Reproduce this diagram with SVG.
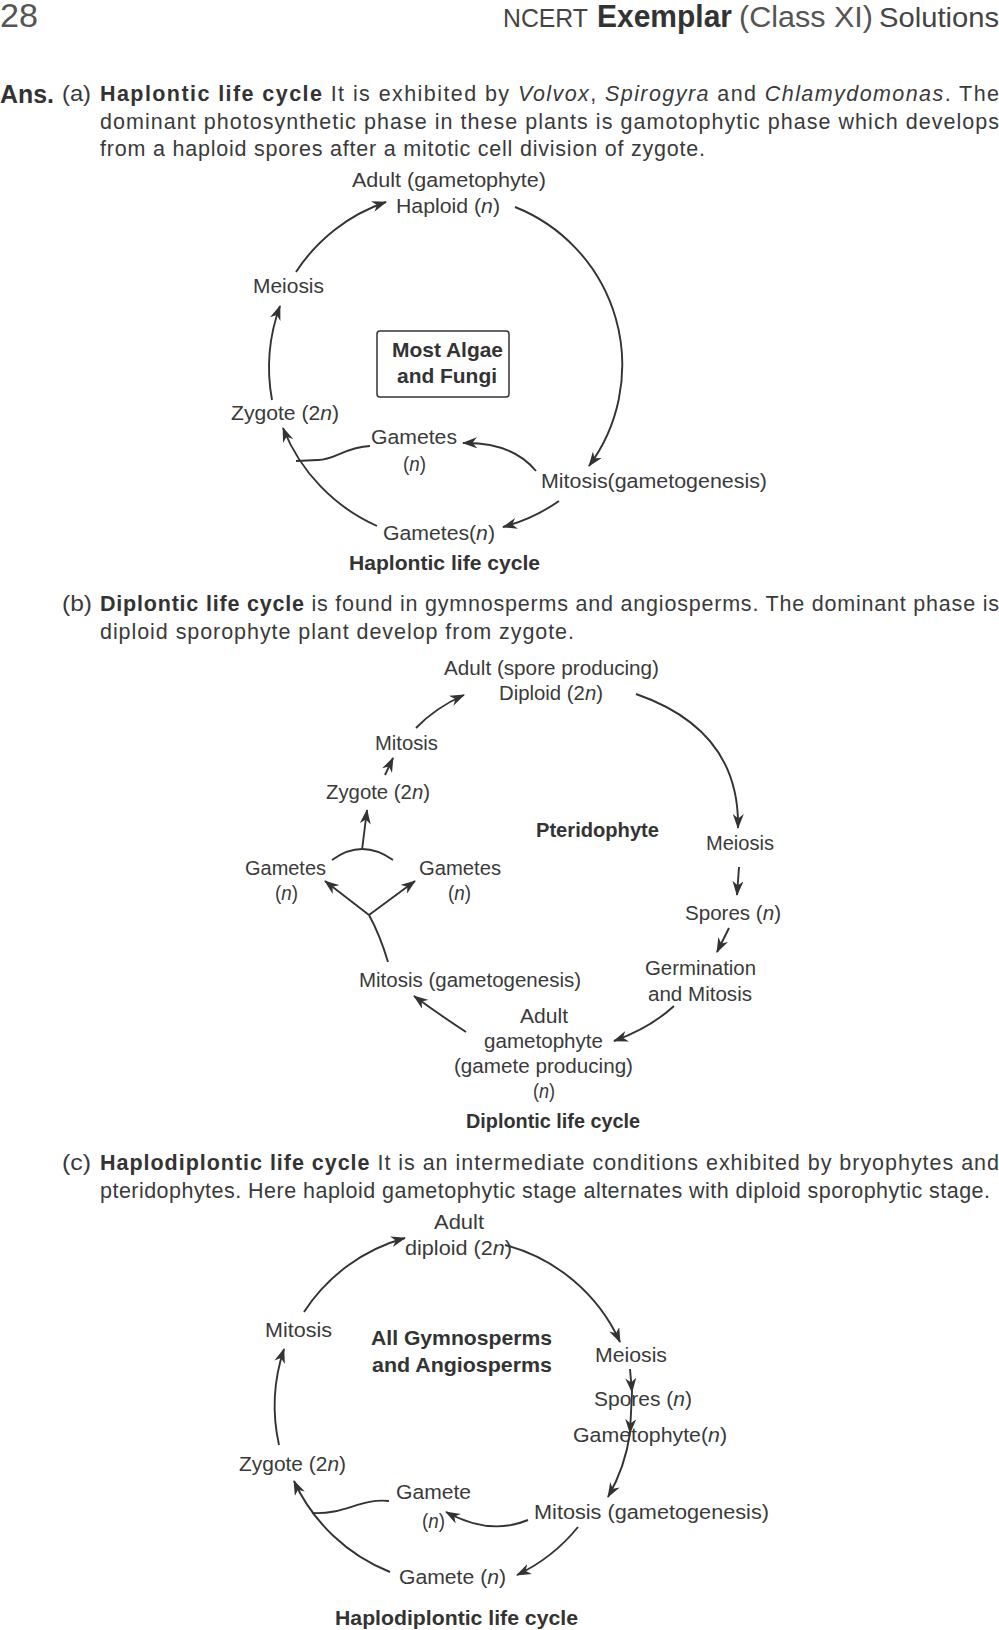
<svg xmlns="http://www.w3.org/2000/svg" width="999" height="1630" viewBox="0 0 999 1630">
<style>
.t{font-family:"Liberation Sans",Arial,sans-serif;font-size:20.5px;fill:#3a3a3a;}
.b{font-family:"Liberation Sans",Arial,sans-serif;font-size:20.5px;font-weight:bold;fill:#333;}
.p{font-family:"Liberation Sans",Arial,sans-serif;font-size:21.5px;fill:#3a3a3a;}
.i{font-style:italic;}
.bb{font-weight:bold;fill:#333;}
.c{stroke:#333;stroke-width:1.9;fill:none;}
.a{marker-end:url(#ah);}
</style>
<defs>
<marker id="ah" viewBox="0 0 15 11" refX="14" refY="5.5" markerWidth="15" markerHeight="11" markerUnits="userSpaceOnUse" orient="auto"><path d="M0,0 L15,5.5 L0,11 L4.5,5.5 z" fill="#333"/></marker>
</defs>
<rect width="999" height="1630" fill="#fff"/>

<g id="header">
<text x="0" y="27" font-family="Liberation Sans,Arial,sans-serif" font-size="33" fill="#555" textLength="38" lengthAdjust="spacingAndGlyphs">28</text>
<text x="503" y="27" font-family="Liberation Sans,Arial,sans-serif" font-size="26" fill="#444" textLength="85" lengthAdjust="spacingAndGlyphs">NCERT</text>
<text x="597" y="27" font-family="Liberation Sans,Arial,sans-serif" font-size="31" font-weight="bold" fill="#333" textLength="135" lengthAdjust="spacingAndGlyphs">Exemplar</text>
<text x="739" y="27" font-family="Liberation Sans,Arial,sans-serif" font-size="29" fill="#555" textLength="134" lengthAdjust="spacingAndGlyphs">(Class XI)</text>
<text x="879" y="27" font-family="Liberation Sans,Arial,sans-serif" font-size="28" fill="#444" textLength="120" lengthAdjust="spacingAndGlyphs">Solutions</text>
</g>

<g id="para-a">
<text x="0" y="103" font-family="Liberation Sans,Arial,sans-serif" font-size="25" font-weight="bold" fill="#333" textLength="54" lengthAdjust="spacingAndGlyphs">Ans.</text>
<text class="p" x="62" y="101" textLength="29" lengthAdjust="spacingAndGlyphs">(a)</text>
<text class="p" x="100" y="101" textLength="899" lengthAdjust="spacing"><tspan class="bb">Haplontic life cycle</tspan> It is exhibited by <tspan class="i">Volvox</tspan>, <tspan class="i">Spirogyra</tspan> and <tspan class="i">Chlamydomonas</tspan>. The</text>
<text class="p" x="100" y="129" textLength="899" lengthAdjust="spacing">dominant photosynthetic phase in these plants is gamotophytic phase which develops</text>
<text class="p" x="100" y="156" textLength="605" lengthAdjust="spacing">from a haploid spores after a mitotic cell division of zygote.</text>
</g>

<g id="diagram-a">
<g id="a-adult"><text class="t" x="352" y="187" textLength="194" lengthAdjust="spacingAndGlyphs">Adult (gametophyte)</text>
<text class="t" x="396" y="213" textLength="104" lengthAdjust="spacingAndGlyphs">Haploid (<tspan class="i">n</tspan>)</text></g>
<g id="a-meiosis"><text class="t" x="253" y="293" textLength="71" lengthAdjust="spacingAndGlyphs">Meiosis</text></g>
<g id="a-box"><rect x="377" y="331" width="132" height="66" rx="3" fill="none" stroke="#333" stroke-width="1.5"/>
<text class="b" x="392" y="357" font-size="21" textLength="111" lengthAdjust="spacingAndGlyphs">Most Algae</text>
<text class="b" x="397" y="383" font-size="21" textLength="100" lengthAdjust="spacingAndGlyphs">and Fungi</text></g>
<g id="a-zygote"><text class="t" x="231" y="420" textLength="108" lengthAdjust="spacingAndGlyphs">Zygote (2<tspan class="i">n</tspan>)</text></g>
<g id="a-gametes1"><text class="t" x="371" y="444" textLength="86" lengthAdjust="spacingAndGlyphs">Gametes</text>
<text class="t" x="403" y="471" textLength="23" lengthAdjust="spacingAndGlyphs">(<tspan class="i">n</tspan>)</text></g>
<g id="a-mitosis"><text class="t" x="541" y="488" textLength="226" lengthAdjust="spacingAndGlyphs">Mitosis(gametogenesis)</text></g>
<g id="a-gametes2"><text class="t" x="383" y="540" textLength="112" lengthAdjust="spacingAndGlyphs">Gametes(<tspan class="i">n</tspan>)</text></g>
<g id="a-caption"><text class="b" x="349" y="570" font-size="21" textLength="191" lengthAdjust="spacingAndGlyphs">Haplontic life cycle</text></g>
</g>

<g id="connectors-a">
<path class="c a" d="M272,400 A180,180 0 0 1 280,306"/>
<path class="c a" d="M296,272 A175,175 0 0 1 386,202"/>
<path class="c a" d="M515,207 A170,170 0 0 1 589,466"/>
<path class="c a" d="M559,501 A178,178 0 0 1 503,527"/>
<path class="c a" d="M377,526 A180,180 0 0 1 283,428"/>
<path class="c a" d="M536,471 Q512,442 463,443"/>
<path class="c" d="M370,446 C345,447 335,460 318,460 L296,461"/>
</g>

<g id="para-b">
<text class="p" x="62" y="611" textLength="30" lengthAdjust="spacingAndGlyphs">(b)</text>
<text class="p" x="100" y="611" textLength="899" lengthAdjust="spacing"><tspan class="bb">Diplontic life cycle</tspan> is found in gymnosperms and angiosperms. The dominant phase is</text>
<text class="p" x="100" y="639" textLength="474" lengthAdjust="spacing">diploid sporophyte plant develop from zygote.</text>
</g>

<g id="diagram-b">
<g id="b-adult"><text class="t" x="444" y="675" textLength="215" lengthAdjust="spacingAndGlyphs">Adult (spore producing)</text>
<text class="t" x="499" y="700" textLength="104" lengthAdjust="spacingAndGlyphs">Diploid (2<tspan class="i">n</tspan>)</text></g>
<g id="b-mitosis"><text class="t" x="375" y="750" textLength="63" lengthAdjust="spacingAndGlyphs">Mitosis</text></g>
<g id="b-zygote"><text class="t" x="326" y="799" textLength="104" lengthAdjust="spacingAndGlyphs">Zygote (2<tspan class="i">n</tspan>)</text></g>
<g id="b-gametes-l"><text class="t" x="245" y="875" textLength="81" lengthAdjust="spacingAndGlyphs">Gametes</text>
<text class="t" x="275" y="900" textLength="23" lengthAdjust="spacingAndGlyphs">(<tspan class="i">n</tspan>)</text></g>
<g id="b-gametes-r"><text class="t" x="419" y="875" textLength="82" lengthAdjust="spacingAndGlyphs">Gametes</text>
<text class="t" x="448" y="900" textLength="23" lengthAdjust="spacingAndGlyphs">(<tspan class="i">n</tspan>)</text></g>
<g id="b-pterido"><text class="b" x="536" y="837" textLength="123" lengthAdjust="spacingAndGlyphs">Pteridophyte</text></g>
<g id="b-meiosis"><text class="t" x="706" y="850" textLength="68" lengthAdjust="spacingAndGlyphs">Meiosis</text></g>
<g id="b-spores"><text class="t" x="685" y="920" textLength="96" lengthAdjust="spacingAndGlyphs">Spores (<tspan class="i">n</tspan>)</text></g>
<g id="b-germ"><text class="t" x="645" y="975" textLength="111" lengthAdjust="spacingAndGlyphs">Germination</text>
<text class="t" x="648" y="1001" textLength="104" lengthAdjust="spacingAndGlyphs">and Mitosis</text></g>
<g id="b-adult-g"><text class="t" x="520" y="1023" textLength="48" lengthAdjust="spacingAndGlyphs">Adult</text>
<text class="t" x="484" y="1048" textLength="119" lengthAdjust="spacingAndGlyphs">gametophyte</text>
<text class="t" x="454" y="1073" textLength="179" lengthAdjust="spacingAndGlyphs">(gamete producing)</text>
<text class="t" x="533" y="1098" textLength="22" lengthAdjust="spacingAndGlyphs">(<tspan class="i">n</tspan>)</text></g>
<g id="b-mitosis-g"><text class="t" x="359" y="987" textLength="222" lengthAdjust="spacingAndGlyphs">Mitosis (gametogenesis)</text></g>
<g id="b-caption"><text class="b" x="466" y="1128" textLength="174" lengthAdjust="spacingAndGlyphs">Diplontic life cycle</text></g>
</g>

<g id="connectors-b">
<path class="c a" d="M636,694 Q740,730 738,828"/>
<path class="c a" d="M739,867 L737,895"/>
<path class="c a" d="M729,928 L717,952"/>
<path class="c a" d="M674,1006 Q650,1028 614,1041"/>
<path class="c a" d="M466,1032 Q440,1015 414,996"/>
<path class="c" d="M388,962 Q380,935 369,915"/>
<path class="c a" d="M369,915 L325,881"/>
<path class="c a" d="M369,915 L415,881"/>
<path class="c" d="M332,860 Q362,838 393,860"/>
<path class="c a" d="M362,850 L367,810"/>
<path class="c a" d="M385,775 L393,758"/>
<path class="c a" d="M416,728 Q435,708 464,695"/>
</g>

<g id="para-c">
<text class="p" x="62" y="1170" textLength="29" lengthAdjust="spacingAndGlyphs">(c)</text>
<text class="p" x="100" y="1170" textLength="899" lengthAdjust="spacing"><tspan class="bb">Haplodiplontic life cycle</tspan> It is an intermediate conditions exhibited by bryophytes and</text>
<text class="p" x="100" y="1198" textLength="890" lengthAdjust="spacing">pteridophytes. Here haploid gametophytic stage alternates with diploid sporophytic stage.</text>
</g>

<g id="diagram-c">
<g id="c-adult"><text class="t" x="434" y="1229" textLength="50" lengthAdjust="spacingAndGlyphs">Adult</text>
<text class="t" x="405" y="1255" textLength="107" lengthAdjust="spacingAndGlyphs">diploid (2<tspan class="i">n</tspan>)</text></g>
<g id="c-mitosis"><text class="t" x="265" y="1337" textLength="67" lengthAdjust="spacingAndGlyphs">Mitosis</text></g>
<g id="c-label"><text class="b" x="371" y="1345" textLength="181" lengthAdjust="spacingAndGlyphs">All Gymnosperms</text>
<text class="b" x="372" y="1372" textLength="180" lengthAdjust="spacingAndGlyphs">and Angiosperms</text></g>
<g id="c-meiosis"><text class="t" x="595" y="1362" textLength="72" lengthAdjust="spacingAndGlyphs">Meiosis</text></g>
<g id="c-spores"><text class="t" x="594" y="1406" textLength="98" lengthAdjust="spacingAndGlyphs">Spores (<tspan class="i">n</tspan>)</text></g>
<g id="c-gameto"><text class="t" x="573" y="1442" textLength="154" lengthAdjust="spacingAndGlyphs">Gametophyte(<tspan class="i">n</tspan>)</text></g>
<g id="c-mitosis-g"><text class="t" x="534" y="1519" textLength="235" lengthAdjust="spacingAndGlyphs">Mitosis (gametogenesis)</text></g>
<g id="c-gamete1"><text class="t" x="396" y="1499" textLength="75" lengthAdjust="spacingAndGlyphs">Gamete</text>
<text class="t" x="422" y="1528" textLength="23" lengthAdjust="spacingAndGlyphs">(<tspan class="i">n</tspan>)</text></g>
<g id="c-zygote"><text class="t" x="239" y="1471" textLength="107" lengthAdjust="spacingAndGlyphs">Zygote (2<tspan class="i">n</tspan>)</text></g>
<g id="c-gamete2"><text class="t" x="399" y="1584" textLength="107" lengthAdjust="spacingAndGlyphs">Gamete (<tspan class="i">n</tspan>)</text></g>
<g id="c-caption"><text class="b" x="335" y="1625" font-size="21" textLength="243" lengthAdjust="spacingAndGlyphs">Haplodiplontic life cycle</text></g>
</g>

<g id="connectors-c">
<path class="c a" d="M279,1445 A180,180 0 0 1 284,1349"/>
<path class="c a" d="M304,1312 A176,176 0 0 1 405,1238"/>
<path class="c a" d="M505,1245 A175,175 0 0 1 620,1342"/>
<path class="c a" d="M630,1369 L632,1392"/>
<path class="c a" d="M632,1392 L630,1433"/>
<path class="c a" d="M630,1433 A178,178 0 0 1 608,1497"/>
<path class="c a" d="M578,1527 A176,176 0 0 1 517,1575"/>
<path class="c a" d="M390,1572 A178,178 0 0 1 294,1481"/>
<path class="c a" d="M528,1520 Q490,1536 446,1512"/>
<path class="c" d="M389,1501 C360,1498 345,1515 312,1513"/>
</g>
</svg>
